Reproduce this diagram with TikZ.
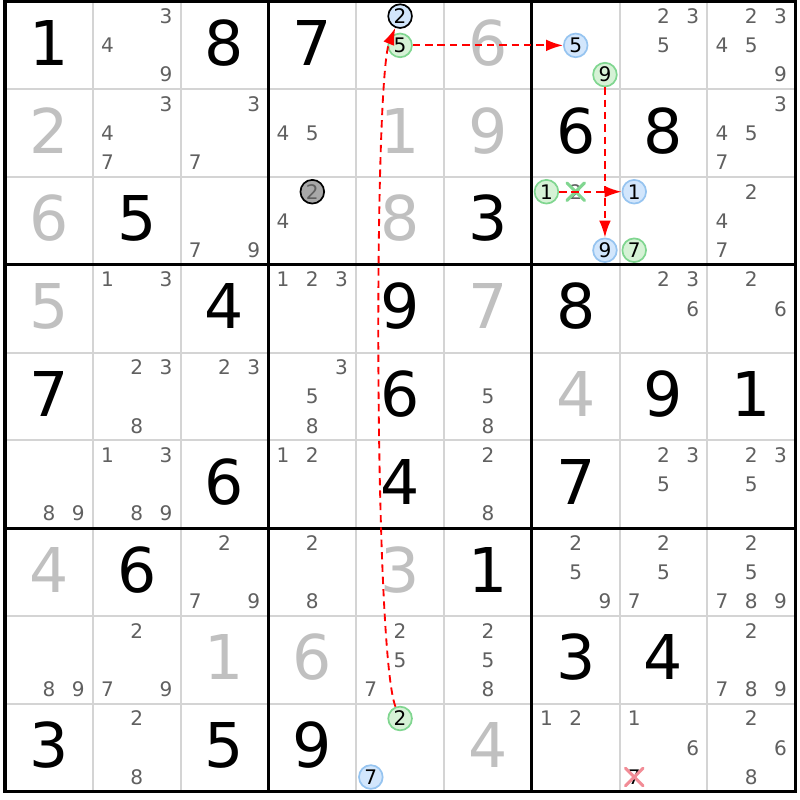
\documentclass[tikz,border=0pt]{standalone}
\usepackage{fontspec}
\setmainfont{DejaVu Sans}
\usepackage{tikz}
\usetikzlibrary{arrows.meta}
\definecolor{grid_grey}{RGB}{212, 212, 212}
\definecolor{given_grey}{RGB}{192, 192, 192}
\definecolor{cand_grey}{RGB}{96, 96, 96}
\definecolor{link_red}{RGB}{255, 0, 0}
\definecolor{on_green}{RGB}{214, 242, 214}
\definecolor{on_green_line}{RGB}{128, 214, 144}
\definecolor{off_blue}{RGB}{210, 230, 252}
\definecolor{off_blue_line}{RGB}{150, 196, 240}
\definecolor{dead_grey}{RGB}{168, 168, 168}
\definecolor{cross_pink}{RGB}{242, 140, 150}

\begin{document}
\begin{tikzpicture}[x=1cm, y=-1cm,
		given/.style={text=given_grey, inner sep=0pt, font=\fontsize{20}{24}\selectfont},
		solved/.style={text=black, inner sep=0pt, font=\fontsize{20}{24}\selectfont},
		cand/.style={text=cand_grey, inner sep=0pt, font=\fontsize{6.5}{8}\selectfont},
		ringcand/.style={circle, inner sep=0pt, minimum size=0.27cm, line width=0.55pt, text=black, font=\fontsize{6.5}{8}\selectfont},
		oncand/.style={ringcand, draw=on_green_line, fill=on_green},
		offcand/.style={ringcand, draw=off_blue_line, fill=off_blue},
		thinline/.style={draw=grid_grey, line width=0.65pt},
		thickline/.style={draw=black, line width=1pt},
		link/.style={draw=link_red, line width=0.6pt, dash pattern=on 2.4pt off 1.6pt, -{Latex[length=5.5pt,width=3.8pt]}},
		crossline/.style={line width=1pt, line cap=round}]
	\useasboundingbox (-0.057,-0.017) rectangle (9.055,9.095);
	\fill[white] (-0.057,-0.017) rectangle (9.055,9.095);
	
	% Draw the grid
	\foreach \i in {1,2,4,5,7,8} {
		\draw[thinline] (\i,0) -- (\i,9);
		\draw[thinline] (0,\i) -- (9,\i);
	}
	\foreach \i in {3,6} {
		\draw[thickline] (\i,0) -- (\i,9);
		\draw[thickline] (0,\i) -- (9,\i);
	}
	\draw[thickline] (0,0) rectangle (9,9);
	
	% Add given digits
	\foreach \col/\row/\digit in {5/0/6, 0/1/2, 4/1/1, 5/1/9, 0/2/6, 4/2/8, 0/3/5, 5/3/7,
		6/4/4, 0/6/4, 4/6/3, 2/7/1, 3/7/6, 5/8/4}
		\node[given] (g\col-\row) at (\col+0.5,\row+0.47) {\digit};
	
	% Add solved digits
	\foreach \col/\row/\digit in {0/0/1, 2/0/8, 3/0/7, 6/1/6, 7/1/8, 1/2/5, 5/2/3,
		2/3/4, 4/3/9, 6/3/8, 0/4/7, 4/4/6, 7/4/9, 8/4/1, 2/5/6, 4/5/4, 6/5/7,
		1/6/6, 5/6/1, 6/7/3, 7/7/4, 0/8/3, 2/8/5, 3/8/9}
		\node[solved] (s\col-\row) at (\col+0.5,\row+0.47) {\digit};
	
	% Add candidates
	\foreach \col/\row/\digits in {1/0/{3,4,9}, 7/0/{2,3,5}, 8/0/{2,3,4,5,9},
		1/1/{3,4,7}, 2/1/{3,7}, 3/1/{4,5}, 8/1/{3,4,5,7},
		2/2/{7,9}, 3/2/{4}, 6/2/{2}, 8/2/{2,4,7},
		1/3/{1,3}, 3/3/{1,2,3}, 7/3/{2,3,6}, 8/3/{2,6},
		1/4/{2,3,8}, 2/4/{2,3}, 3/4/{3,5,8}, 5/4/{5,8},
		0/5/{8,9}, 1/5/{1,3,8,9}, 3/5/{1,2}, 5/5/{2,8}, 7/5/{2,3,5}, 8/5/{2,3,5},
		2/6/{2,7,9}, 3/6/{2,8}, 6/6/{2,5,9}, 7/6/{2,5,7}, 8/6/{2,5,7,8,9},
		0/7/{8,9}, 1/7/{2,7,9}, 4/7/{2,5,7}, 5/7/{2,5,8}, 8/7/{2,7,8,9},
		1/8/{2,8}, 6/8/{1,2}, 7/8/{1,6}, 8/8/{2,6,8}}
		\foreach \d in \digits {
			\pgfmathsetmacro\sx{mod(\d-1,3)}
			\pgfmathsetmacro\sy{floor((\d-1)/3)}
			\node[cand] (k\col-\row-\d) at (\col+\sx/3+1/6,\row+\sy/3+1/6) {\d};
		}
	
	% marked candidates
	\node[ringcand, draw=black, fill=off_blue] (r1c5n2) at (4.5,0.1667) {2};
	\node[oncand] (r1c5n5) at (4.5,0.5) {5};
	\node[offcand] (r1c7n5) at (6.5,0.5) {5};
	\node[oncand] (r1c7n9) at (6.8333,0.8333) {9};
	\node[ringcand, draw=black, fill=dead_grey, text=cand_grey] (r3c4n2) at (3.5,2.1667) {2};
	\node[oncand] (r3c7n1) at (6.1667,2.1667) {1};
	\node[offcand] (r3c7n9) at (6.8333,2.8333) {9};
	\node[offcand] (r3c8n1) at (7.1667,2.1667) {1};
	\node[oncand] (r3c8n7) at (7.1667,2.8333) {7};
	\node[oncand] (r9c5n2) at (4.5,8.1667) {2};
	\node[offcand] (r9c5n7) at (4.1667,8.8333) {7};
	\node[cand, text=black] (r9c8n7) at (7.1667,8.8333) {7};
	
	% crosses
	\draw[crossline, draw=on_green_line] ([shift={(-0.1,-0.1)}]k6-2-2.center) -- ([shift={(0.1,0.1)}]k6-2-2.center);
	\draw[crossline, draw=on_green_line] ([shift={(-0.1,0.1)}]k6-2-2.center) -- ([shift={(0.1,-0.1)}]k6-2-2.center);
	\draw[crossline, draw=cross_pink] ([shift={(-0.1,-0.1)}]r9c8n7.center) -- ([shift={(0.1,0.1)}]r9c8n7.center);
	\draw[crossline, draw=cross_pink] ([shift={(-0.1,0.1)}]r9c8n7.center) -- ([shift={(0.1,-0.1)}]r9c8n7.center);
	
	% links
	\draw[link] (r9c5n2) .. controls (4.2,7.4) and (4.2,0.9) .. (r1c5n2);
	\draw[link] (r1c5n5) -- (r1c7n5);
	\draw[link] (r1c7n9) -- (r3c7n9);
	\draw[link] (r3c7n1) -- (r3c8n1);
\end{tikzpicture}
\end{document}
